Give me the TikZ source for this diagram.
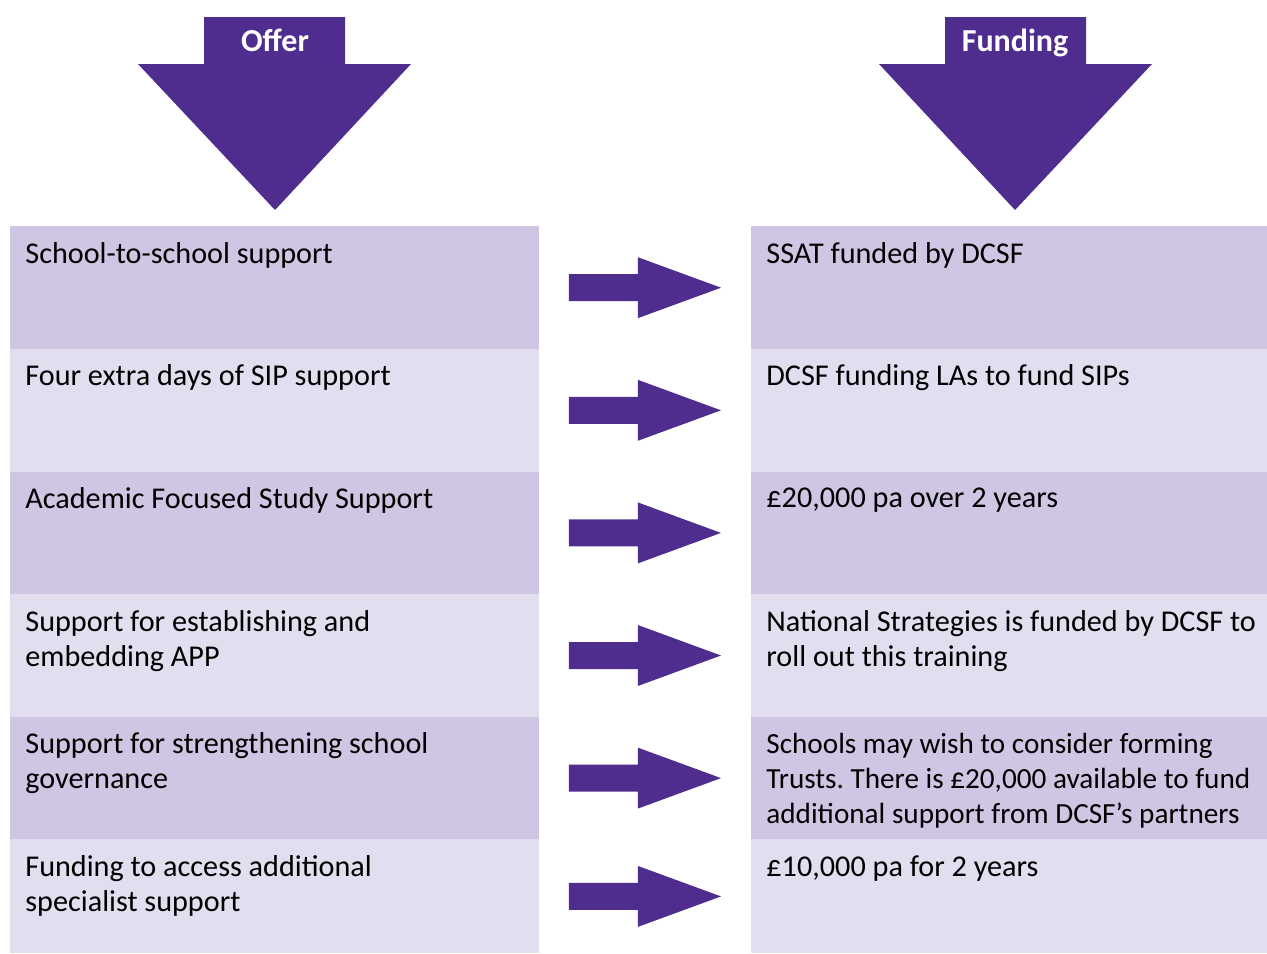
\documentclass[tikz,border=0pt]{standalone}
\usepackage{fontspec}
\setmainfont{Carlito}
\frenchspacing
\usetikzlibrary{positioning}
\usetikzlibrary{calc}

\definecolor{schemepurple}{RGB}{79,45,142}
\definecolor{rowdark}{RGB}{207,198,228}
\definecolor{rowlight}{RGB}{226,222,239}

\tikzset{
	cell/.style={anchor=north west, inner sep=0pt, minimum height=61.3pt},
	offercell/.style={cell, minimum width=264.5pt},
	fundcell/.style={cell, minimum width=258pt},
	celltext/.style={inner sep=0pt, align=left, font=\fontsize{15.1}{17.5}\selectfont},
	headtext/.style={inner sep=0pt, anchor=base, text=white, font=\bfseries\fontsize{16}{18}\selectfont}
}

% fat arrow from an offer cell to its funding cell
\newcommand{\rowarrow}[2]{%
	\fill[schemepurple] ($(#1.east)+(29,-13.5)$) -- ($(#1.east)+(98,-13.5)$) -- ($(#1.east)+(98,-30.5)$)
		-- ($(#2.west)+(-30,0)$) -- ($(#1.east)+(98,30.5)$) -- ($(#1.east)+(98,13.5)$) -- ($(#1.east)+(29,13.5)$) -- cycle;}

\begin{document}
\begin{tikzpicture}[x=0.5pt, y=-0.5pt]
	\useasboundingbox (0,0) rectangle (1267,953);

	% headings
	\fill[schemepurple] (204,17) -- (345,17) -- (345,64) -- (411,64) -- (275,210) -- (138,64) -- (204,64) -- cycle;
	\fill[schemepurple] (945,17) -- (1086,17) -- (1086,64) -- (1152,64) -- (1015,210) -- (879,64) -- (945,64) -- cycle;
	\node[headtext] (offer) at (275,51) {Offer};
	\node[headtext] (funding) at (1015,51) {Funding};

	% offer column
	\node[offercell, fill=rowdark] (o1) at (10,226) {};
	\node[offercell, fill=rowlight] (o2) at (10,348.6) {};
	\node[offercell, fill=rowdark] (o3) at (10,471.2) {};
	\node[offercell, fill=rowlight] (o4) at (10,593.8) {};
	\node[offercell, fill=rowdark] (o5) at (10,716.4) {};
	\node[offercell, fill=rowlight, minimum height=57pt] (o6) at (10,839) {};

	% funding column
	\node[fundcell, fill=rowdark] (f1) at (751,226) {};
	\node[fundcell, fill=rowlight] (f2) at (751,348.6) {};
	\node[fundcell, fill=rowdark] (f3) at (751,471.2) {};
	\node[fundcell, fill=rowlight] (f4) at (751,593.8) {};
	\node[fundcell, fill=rowdark] (f5) at (751,716.4) {};
	\node[fundcell, fill=rowlight, minimum height=57pt] (f6) at (751,839) {};

	% texts
	\node[celltext, below right=8pt and 7.5pt of o1.north west] (ot1) {School-to-school support};
	\node[celltext, below right=8pt and 7.5pt of o2.north west] (ot2) {Four extra days of SIP support};
	\node[celltext, below right=8pt and 7.5pt of o3.north west] (ot3) {Academic Focused Study Support};
	\node[celltext, below right=8pt and 7.5pt of o4.north west] (ot4) {Support for establishing and\\embedding APP};
	\node[celltext, below right=8pt and 7.5pt of o5.north west] (ot5) {Support for strengthening school\\governance};
	\node[celltext, below right=8pt and 7.5pt of o6.north west] (ot6) {Funding to access additional\\specialist support};

	\node[celltext, below right=8pt and 7.5pt of f1.north west] (ft1) {SSAT funded by DCSF};
	\node[celltext, below right=8pt and 7.5pt of f2.north west] (ft2) {DCSF funding LAs to fund SIPs};
	\node[celltext, below right=8pt and 7.5pt of f3.north west] (ft3) {£20,000 pa over 2 years};
	\node[celltext, below right=8pt and 7.5pt of f4.north west] (ft4) {National Strategies is funded by DCSF to\\roll out this training};
	\node[celltext, font=\fontsize{14.6}{17.5}\selectfont, below right=8pt and 7.5pt of f5.north west] (ft5) {Schools may wish to consider forming\\Trusts. There is £20,000 available to fund\\additional support from DCSF’s partners};
	\node[celltext, below right=8pt and 7.5pt of f6.north west] (ft6) {£10,000 pa for 2 years};

	% arrows between the columns
	\rowarrow{o1}{f1}
	\rowarrow{o2}{f2}
	\rowarrow{o3}{f3}
	\rowarrow{o4}{f4}
	\rowarrow{o5}{f5}
	\rowarrow{o6}{f6}
\end{tikzpicture}
\end{document}
